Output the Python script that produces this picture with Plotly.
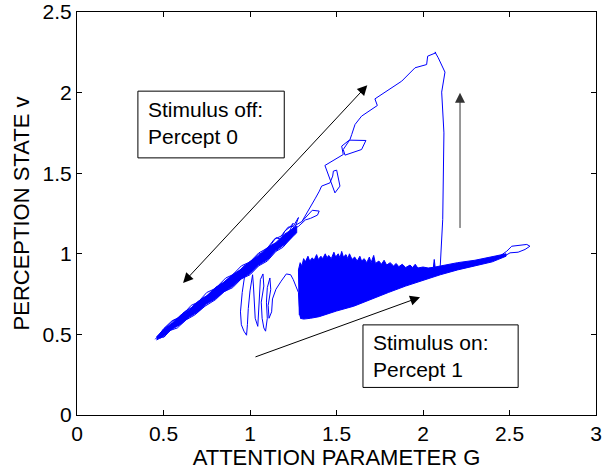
import plotly.graph_objects as go

# ---- data (ATTENTION PARAMETER G, PERCEPTION STATE v) ----
# dense diagonal band (stimulus off, percept 0) outline
band_outline_x = [0.46, 0.50, 0.55, 0.60, 0.65, 0.70, 0.75, 0.80, 0.85, 0.90, 0.95, 1.00, 1.05,
                  1.10, 1.15, 1.20, 1.27,
                  1.27, 1.20, 1.15, 1.10, 1.05, 1.00, 0.95, 0.90, 0.85, 0.80, 0.75, 0.70, 0.65,
                  0.60, 0.55, 0.50, 0.46]
band_outline_y = [0.485, 0.53, 0.57, 0.62, 0.655, 0.705, 0.74, 0.79, 0.825, 0.872, 0.905, 0.952, 0.99,
                  1.038, 1.07, 1.122, 1.17,
                  1.13, 1.058, 1.02, 0.963, 0.93, 0.878, 0.845, 0.798, 0.765, 0.72, 0.69, 0.64, 0.608,
                  0.563, 0.533, 0.49, 0.465]

# loose strands along the band
band_trace_x = [0.452, 0.47, 0.49, 0.51, 0.52, 0.50, 0.48, 0.50, 0.55, 0.58, 0.62, 0.66, 0.72,
                0.76, 0.80, 0.84, 0.88, 0.92, 0.97, 1.00, 1.05, 1.08, 1.12, 1.15, 1.18, 1.20,
                1.23, 1.25, 1.22, 1.26, 1.30, 1.33, 1.36, 1.40, 1.39, 1.35, 1.32, 1.28, 1.24,
                1.18, 1.12, 1.06, 1.00, 0.94, 0.88, 0.82, 0.76, 0.70, 0.64, 0.58, 0.53, 0.48]
band_trace_y = [0.47, 0.49, 0.48, 0.49, 0.515, 0.525, 0.505, 0.535, 0.585, 0.595, 0.64, 0.665, 0.72,
                0.745, 0.79, 0.815, 0.85, 0.875, 0.93, 0.94, 1.00, 1.00, 1.055, 1.10, 1.09, 1.14,
                1.165, 1.19, 1.12, 1.175, 1.20, 1.235, 1.27, 1.265, 1.24, 1.22, 1.21, 1.17, 1.15,
                1.07, 1.02, 0.96, 0.905, 0.855, 0.81, 0.76, 0.71, 0.66, 0.615, 0.565, 0.52, 0.475]

band_strand_x = [0.50, 0.56, 0.60, 0.66, 0.70, 0.75, 0.80, 0.86, 0.90, 0.95, 1.00, 1.05, 1.10,
                 1.14, 1.18, 1.22, 1.25, 1.28, 1.24, 1.19, 1.15, 1.10, 1.05, 1.00, 0.95, 0.90,
                 0.85, 0.80, 0.74, 0.68, 0.63, 0.58, 0.54, 0.50]
band_strand_y = [0.53, 0.59, 0.61, 0.68, 0.70, 0.76, 0.785, 0.85, 0.87, 0.925, 0.95, 1.005, 1.035,
                 1.09, 1.11, 1.165, 1.17, 1.225, 1.10, 1.04, 1.015, 0.955, 0.925, 0.87, 0.845, 0.79,
                 0.765, 0.715, 0.675, 0.62, 0.59, 0.54, 0.525, 0.48]

# upper excursion: band top -> peak -> vertical drop to the lower branch
upper_x = [1.30, 1.34, 1.376, 1.401, 1.414, 1.462, 1.478, 1.482, 1.501, 1.520, 1.491, 1.47,
           1.433, 1.539, 1.53, 1.574, 1.67, 1.645, 1.549, 1.539, 1.578, 1.588, 1.607, 1.645,
           1.713, 1.736, 1.722, 1.79, 1.877, 1.954, 2.021, 2.027, 2.075, 2.069, 2.088, 2.127,
           2.108, 2.121, 2.118, 2.114, 2.10, 2.095]
upper_y = [1.20, 1.27, 1.341, 1.389, 1.42, 1.44, 1.482, 1.513, 1.519, 1.42, 1.378, 1.44,
           1.548, 1.616, 1.668, 1.705, 1.703, 1.647, 1.612, 1.647, 1.709, 1.74, 1.802, 1.854,
           1.905, 1.92, 1.961, 2.009, 2.071, 2.154, 2.174, 2.226, 2.247, 2.252, 2.216, 2.127,
           2.003, 1.75, 1.502, 1.213, 0.93, 0.905]

# wandering strands between the band and the dense region
middle_x = [0.97, 0.955, 0.945, 0.95, 0.965, 0.98, 0.985, 0.99, 1.0, 1.015, 1.02, 1.025, 1.03,
            1.045, 1.05, 1.055, 1.06, 1.075, 1.08, 1.065, 1.07, 1.08, 1.09, 1.10, 1.095, 1.10,
            1.115, 1.12, 1.105, 1.11, 1.125, 1.13, 1.15, 1.18, 1.21, 1.235, 1.25, 1.265, 1.28,
            1.285, 1.29, 1.30]
middle_y = [0.87, 0.76, 0.64, 0.56, 0.52, 0.495, 0.56, 0.66, 0.77, 0.87, 0.80, 0.70, 0.60,
            0.55, 0.63, 0.75, 0.84, 0.875, 0.80, 0.70, 0.60, 0.54, 0.52, 0.60, 0.70, 0.79,
            0.85, 0.78, 0.68, 0.60, 0.64, 0.72, 0.78, 0.83, 0.875, 0.87, 0.84, 0.80, 0.76,
            0.68, 0.62, 0.60]

# dense oscillation region (stimulus on, percept 1) and lower branch outline
dense_x = [1.285, 1.28, 1.29, 1.30, 1.31, 1.32, 1.335, 1.345, 1.36, 1.37, 1.385, 1.395, 1.41,
           1.42, 1.435, 1.445, 1.455, 1.47, 1.485, 1.495, 1.51, 1.52, 1.53, 1.54, 1.555, 1.565,
           1.575, 1.59, 1.605, 1.62, 1.635, 1.645, 1.66, 1.675, 1.69, 1.70, 1.715, 1.725, 1.745,
           1.76, 1.775, 1.79, 1.81, 1.83, 1.845, 1.86, 1.88, 1.90, 1.925, 1.94, 1.955, 1.97,
           2.00, 2.03, 2.06, 2.065, 2.07, 2.10, 2.20, 2.30, 2.40, 2.48,
           2.48, 2.40, 2.30, 2.20, 2.10, 2.00, 1.90, 1.80, 1.70, 1.60, 1.50, 1.45, 1.40, 1.35,
           1.31, 1.29]
dense_y = [0.62, 0.90, 0.945, 0.925, 0.97, 0.95, 0.985, 0.955, 0.975, 0.96, 0.995, 0.965, 0.985,
           0.97, 1.0, 0.975, 0.99, 0.97, 1.01, 0.98, 1.0, 0.975, 1.015, 0.98, 0.995, 0.97,
           1.0, 0.965, 0.98, 0.955, 0.985, 0.955, 0.97, 0.945, 0.98, 0.945, 0.99, 0.94, 0.955,
           0.935, 0.96, 0.93, 0.945, 0.925, 0.94, 0.92, 0.935, 0.915, 0.93, 0.915, 0.935, 0.912,
           0.918, 0.912, 0.916, 0.965, 0.918, 0.925, 0.945, 0.96, 0.98, 1.0,
           0.985, 0.95, 0.925, 0.90, 0.87, 0.835, 0.80, 0.76, 0.715, 0.675, 0.645, 0.625, 0.61, 0.60,
           0.595, 0.60]

# small loop at the right end of the lower branch
loop_x = [2.45, 2.484, 2.513, 2.60, 2.618, 2.59, 2.55, 2.503, 2.47]
loop_y = [0.99, 1.016, 1.047, 1.058, 1.047, 1.027, 1.01, 1.006, 0.985]

BLUE = "#0000ff"
FONT = "Liberation Sans, Arial, Helvetica, sans-serif"

fig = go.Figure()
fig.add_trace(go.Scatter(x=band_outline_x, y=band_outline_y, mode="lines", fill="toself",
                         fillcolor=BLUE, line=dict(color=BLUE, width=1), hoverinfo="skip"))
fig.add_trace(go.Scatter(x=dense_x, y=dense_y, mode="lines", fill="toself",
                         fillcolor=BLUE, line=dict(color=BLUE, width=1), hoverinfo="skip"))
for xs, ys in [(band_trace_x, band_trace_y), (band_strand_x, band_strand_y), (upper_x, upper_y),
               (middle_x, middle_y), (loop_x, loop_y)]:
    fig.add_trace(go.Scatter(x=xs, y=ys, mode="lines",
                             line=dict(color=BLUE, width=1), hoverinfo="skip"))

# boxes
fig.add_shape(type="rect", xref="x", yref="y", x0=0.352, x1=1.198, y0=1.595, y1=2.009,
              line=dict(color="black", width=1))
fig.add_shape(type="rect", xref="x", yref="y", x0=1.653, x1=2.55, y0=0.171, y1=0.559,
              line=dict(color="black", width=1))

ann = [
    dict(x=0.401, y=1.8145, xref="x", yref="y", xanchor="left", yanchor="middle", align="left",
         text="Stimulus off:<br>Percept 0", showarrow=False, font=dict(size=21, color="black", family=FONT)),
    dict(x=1.699, y=0.369, xref="x", yref="y", xanchor="left", yanchor="middle", align="left",
         text="Stimulus on:<br>Percept 1", showarrow=False, font=dict(size=21, color="black", family=FONT)),
    dict(x=1.678, y=2.046, ax=0.605, ay=0.81, xref="x", yref="y", axref="x", ayref="y", text="",
         showarrow=True, arrowside="end+start", arrowhead=2, startarrowhead=2, arrowsize=2,
         startarrowsize=2, arrowwidth=1, arrowcolor="black"),
    dict(x=1.983, y=0.731, ax=1.023, ay=0.357, xref="x", yref="y", axref="x", ayref="y", text="",
         showarrow=True, arrowhead=2, arrowsize=2, arrowwidth=1, arrowcolor="black"),
    dict(x=2.214, y=1.999, ax=2.214, ay=1.151, xref="x", yref="y", axref="x", ayref="y", text="",
         showarrow=True, arrowhead=2, arrowsize=2, arrowwidth=1, arrowcolor="#333333"),
]

axis_common = dict(showgrid=False, zeroline=False, showline=True, linecolor="black", linewidth=1,
                   mirror="ticks", ticks="inside", ticklen=5, tickcolor="black", dtick=0.5,
                   automargin=False, tickfont=dict(size=21, color="black", family=FONT))

fig.update_layout(
    width=604, height=470, margin=dict(l=77, r=8, t=12, b=55),
    paper_bgcolor="white", plot_bgcolor="white", showlegend=False,
    xaxis=dict(range=[0, 3], title=dict(text="ATTENTION PARAMETER G", standoff=4,
               font=dict(size=22, color="black", family=FONT)), **axis_common),
    yaxis=dict(range=[0, 2.5], title=dict(text="PERCEPTION STATE v", standoff=6,
               font=dict(size=22, color="black", family=FONT)), **axis_common),
    annotations=ann,
)

fig.write_html("out.html")
